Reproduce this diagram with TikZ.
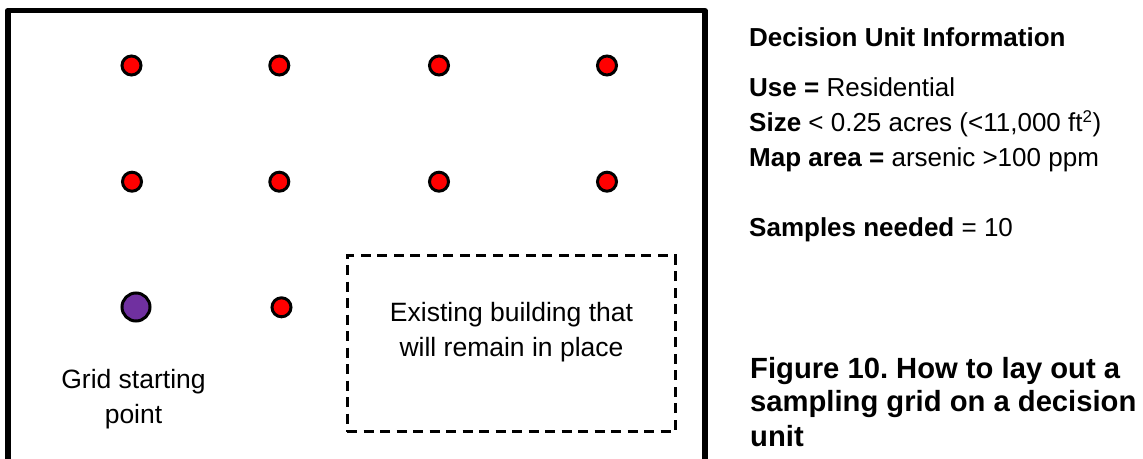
\documentclass[tikz,border=0pt]{standalone}
\usepackage{fontspec}
\setmainfont{Liberation Sans}
\frenchspacing
\definecolor{dotred}{RGB}{255,0,0}
\definecolor{dotpurple}{RGB}{112,48,160}
\begin{document}
\begin{tikzpicture}[x=1pt,y=-1pt,
  sample/.style={circle,draw=black,line width=3pt,fill=dotred,minimum size=19pt,inner sep=0pt},
  start/.style={circle,draw=black,line width=3pt,fill=dotpurple,minimum size=28pt,inner sep=0pt},
  frameline/.style={line width=5.4pt,line join=round},
  building/.style={draw=black,line width=3pt,dash pattern=on 10pt off 6.5pt},
  plain/.style={font=\fontsize{26.5}{35}\selectfont,inner sep=0pt,align=center},
  info/.style={font=\fontsize{26}{35}\selectfont,inner sep=0pt,anchor=base west},
  caption/.style={font=\fontsize{29.2}{34}\selectfont\bfseries,inner sep=0pt,anchor=base west}]
\useasboundingbox (0,0) rectangle (1143,458);
\begin{scope}
\clip (0,0) rectangle (1143,458);
\coordinate (fbl) at (7.8,470);
\coordinate (ftl) at (7.8,10.5);
\coordinate (ftr) at (705,10.5);
\coordinate (fbr) at (705,470);
\draw[frameline] (fbl) -- (ftl) -- (ftr) -- (fbr);
\end{scope}
% sampling points
\node[sample] (p11) at (131.5,65.5) {};
\node[sample] (p12) at (279.3,65.5) {};
\node[sample] (p13) at (439,65.5) {};
\node[sample] (p14) at (607,65.5) {};
\node[sample] (p21) at (132,181.7) {};
\node[sample] (p22) at (279.3,181.7) {};
\node[sample] (p23) at (439,181.7) {};
\node[sample] (p24) at (607,181.7) {};
\node[start] (p31) at (136,307) {};
\node[sample] (p32) at (281.5,307.3) {};
% building
\node[building,minimum width=328pt,minimum height=176pt,inner sep=0pt] (bldg) at (511,343.7) {};
\node[plain,anchor=base] (bldgtext) at (511.5,356.5) {Existing building that\\will remain in place};
\node[plain,anchor=base] (starttext) at (133.5,423) {Grid starting\\point};
% info
\node[info] (t1) at (749,46) {\bfseries Decision Unit Information};
\node[info] (t2) at (749,96.7) {\bfseries Use = \mdseries Residential};
\node[info] (t3) at (749,131.7) {\bfseries Size \mdseries < 0.25 acres (<11,000 ft\textsuperscript{\fontsize{17}{17}\selectfont 2})};
\node[info] (t4) at (749,166.7) {\bfseries Map area = \mdseries arsenic >100 ppm};
\node[info] (t5) at (749,236.7) {\bfseries Samples needed \mdseries = 10};
\node[caption] (c1) at (750,378) {Figure 10. How to lay out a};
\node[caption] (c2) at (750,411.7) {sampling grid on a decision};
\node[caption] (c3) at (750,446.7) {unit};
\end{tikzpicture}
\end{document}
